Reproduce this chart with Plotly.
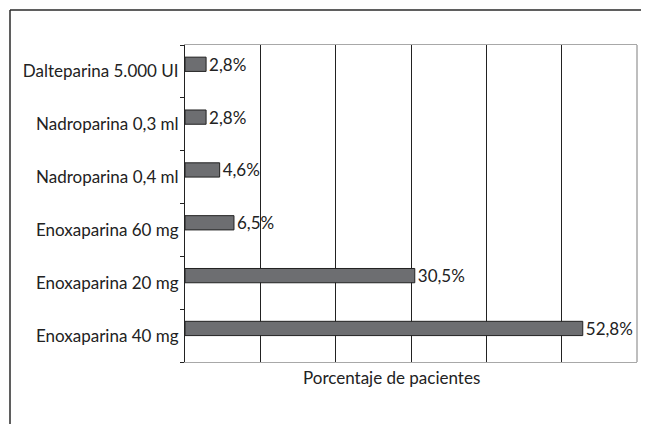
import plotly.graph_objects as go

# Categories listed bottom-to-top
categories = ["Enoxaparina 40 mg", "Enoxaparina 20 mg", "Enoxaparina 60 mg",
              "Nadroparina 0,4 ml", "Nadroparina 0,3 ml", "Dalteparina 5.000 UI"]
values = [52.8, 30.5, 6.5, 4.6, 2.8, 2.8]
labels = ["52,8%", "30,5%", "6,5%", "4,6%", "2,8%", "2,8%"]
x_title = "Porcentaje de pacientes"

FONT = "Lato"
DARK = "#222222"
GRAY = "#a8a8a8"

W, H = 647, 424
L, R, T, B = 185, 10, 45, 62
pw, ph = W - L - R, H - T - B

def px(x):
    return (x - L) / pw

def py(y):
    return (H - B - y) / ph

fig = go.Figure()
fig.add_trace(go.Bar(
    y=categories, x=values, orientation="h",
    width=0.27, offset=0.0,
    marker=dict(color="#6d6e71", line=dict(color=DARK, width=1)),
    text=labels, textposition="outside", cliponaxis=False,
    constraintext="none",
    textfont=dict(family=FONT, size=17, color=DARK),
))

fig.update_layout(
    width=W, height=H,
    margin=dict(l=L, r=R, t=T, b=B),
    paper_bgcolor="white", plot_bgcolor="white",
    showlegend=False,
    font=dict(family=FONT, size=17, color=DARK),
    xaxis=dict(range=[0, 60], dtick=10, showgrid=True, gridcolor=DARK, gridwidth=1,
               showticklabels=False, ticks="", zeroline=False,
               showline=True, linecolor=GRAY, linewidth=1, mirror=True),
    yaxis=dict(type="category", categoryorder="array", categoryarray=categories,
               showgrid=False, zeroline=False,
               showline=True, linecolor=DARK, linewidth=1,
               ticks="outside", tickson="boundaries", ticklen=4, tickcolor=DARK,
               ticklabelstandoff=2,
               tickfont=dict(family=FONT, size=17, color=DARK)),
    annotations=[dict(text=x_title, xref="paper", yref="paper",
                      x=px(391.5), y=py(377), xanchor="center", yanchor="middle",
                      showarrow=False, font=dict(family=FONT, size=17, color=DARK))],
    shapes=[
        # right edge of plot area in gray
        dict(type="line", xref="paper", yref="paper", x0=1, x1=1, y0=0, y1=1,
             line=dict(color=GRAY, width=1.5), layer="above"),
        # outer frame (top and left visible)
        dict(type="line", xref="paper", yref="paper",
             x0=px(10), x1=px(641), y0=py(10), y1=py(10),
             line=dict(color="#2a2a2a", width=1.5)),
        dict(type="line", xref="paper", yref="paper",
             x0=px(10), x1=px(10), y0=py(10), y1=py(H),
             line=dict(color="#2a2a2a", width=1.5)),
    ],
)

fig.write_html(
    "out.html",
    config={"displayModeBar": False},
    post_script="document.documentElement.style.overflow='hidden';"
                "document.body.style.overflow='hidden';",
)
